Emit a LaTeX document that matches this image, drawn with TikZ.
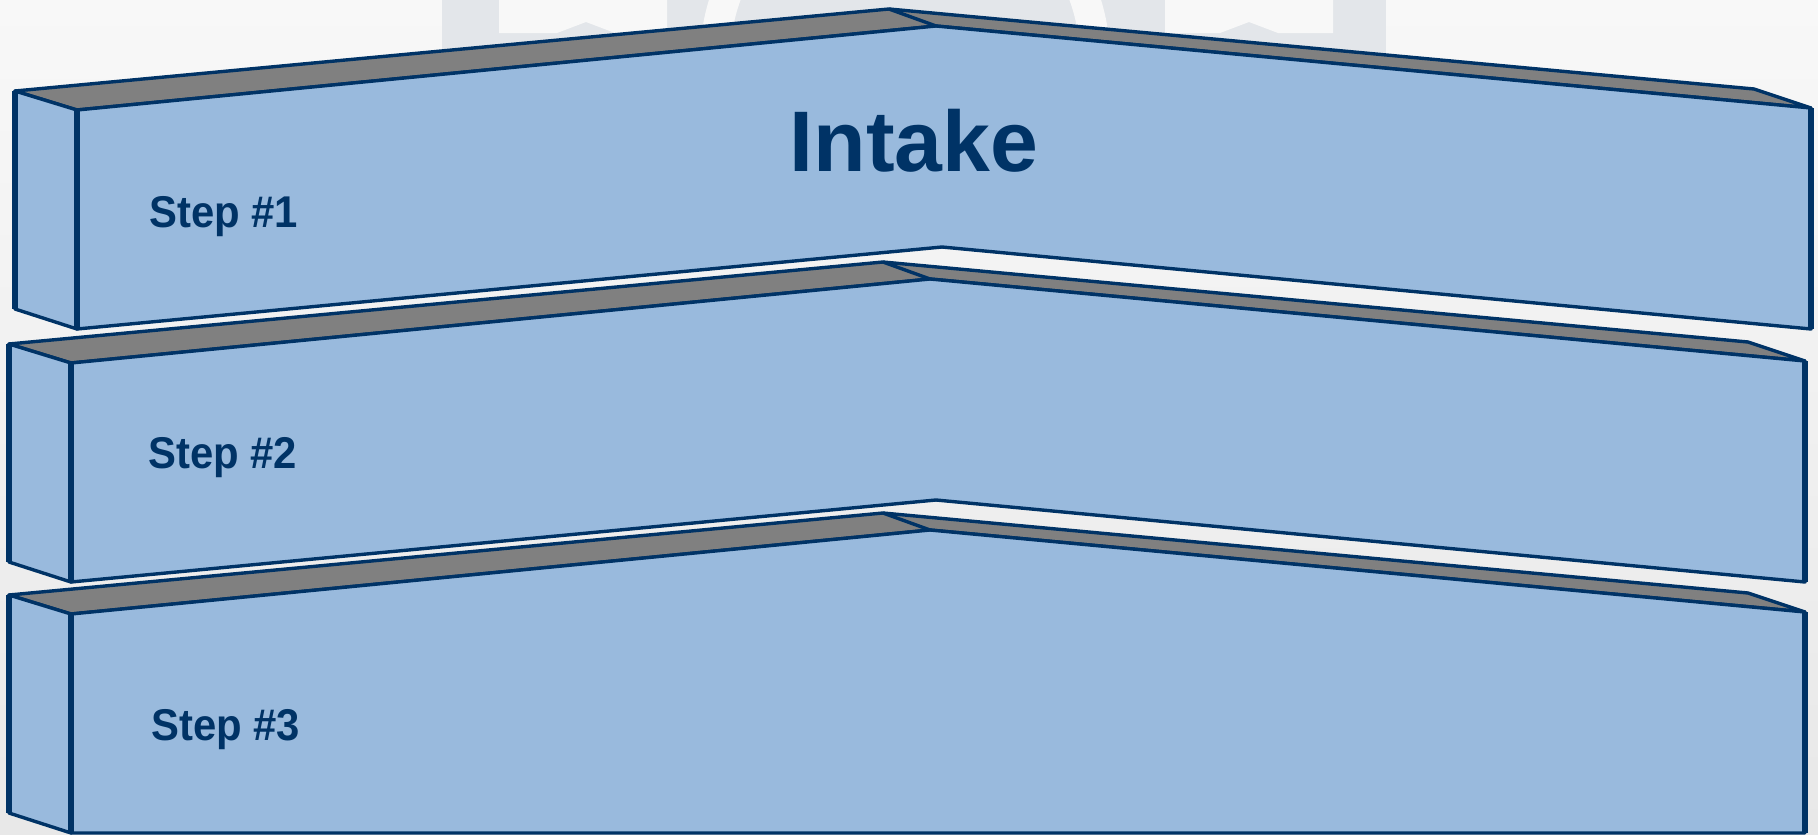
\documentclass[tikz,border=0pt]{standalone}
\usepackage{fontspec}
\setmainfont{Liberation Sans}
\definecolor{navy}{HTML}{003366}
\definecolor{faceblue}{HTML}{99BADD}
\definecolor{topgrey}{HTML}{808080}
\definecolor{wmgrey}{HTML}{E3E6EA}
\definecolor{bgtop}{HTML}{F8F8F8}
\definecolor{bgbot}{HTML}{E8E8E8}
\tikzset{
  edge/.style={draw=navy, line width=3.4pt, line join=round},
  topface/.style={edge, fill=topgrey},
  frontface/.style={edge, fill=faceblue},
  vedge/.style={draw=navy, line width=6pt},
  steplabel/.style={text=navy, inner sep=0pt, anchor=base west,
    font=\fontsize{44.5}{50}\selectfont\bfseries},
  titlelabel/.style={text=navy, inner sep=0pt, anchor=base,
    font=\fontsize{86}{95}\selectfont\bfseries},
  wmlight/.style={fill=bgtop}
}
\newcommand\narrowtext[1]{\scalebox{0.94}[1]{#1}}
% #1 shift, #2 y of bottom apex (template coords)
\newcommand\chevronblock[2]{%
  \begin{scope}[shift={#1}]
    \path[topface] (9,344) -- (883,262) -- (1748,342) -- (1805,361) -- (930,279) -- (71,363) -- cycle;
    \draw[edge] (883,262) -- (930,279);
    \path[frontface] (9,344) -- (71,363) -- (71,582) -- (9,562) -- cycle;
    \path[frontface] (71,363) -- (930,279) -- (1805,361) -- (1805,582) -- (936,#2) -- (71,582) -- cycle;
    \draw[vedge] (9,344) -- (9,562) (71,363) -- (71,582) (1805,361) -- (1805,582);
  \end{scope}}
\begin{document}
\begin{tikzpicture}[x=1pt,y=-1pt]
  \useasboundingbox (0,0) rectangle (1818,835);
  \shade[top color=bgtop, bottom color=bgbot] (0,0) rectangle (1818,835);
  % faint watermark
  \fill[wmgrey] (442,0) rectangle (1386,70);
  \begin{scope}
    \clip (442,0) rectangle (1386,70);
    \draw[bgtop, line width=30pt] (905,60) circle[radius=190];
  \end{scope}
  \fill[wmlight] (499,0) -- (499,33) -- (557,33) -- (586,22) -- (615,33) -- (667,33) -- (667,0) -- cycle;
  \fill[wmlight] (1165,0) -- (1165,33) -- (1220,33) -- (1249,22) -- (1278,33) -- (1333,33) -- (1333,0) -- cycle;
  % blocks
  \chevronblock{(6,-253)}{500}
  \chevronblock{(0,0)}{500}
  \chevronblock{(0,251)}{582}
  % labels
  \node[titlelabel] (intake) at (914,171) {Intake};
  \node[steplabel] (s1) at (149,227) {\narrowtext{Step \#1}};
  \node[steplabel] (s2) at (148,468) {\narrowtext{Step \#2}};
  \node[steplabel] (s3) at (151,740) {\narrowtext{Step \#3}};
\end{tikzpicture}
\end{document}
